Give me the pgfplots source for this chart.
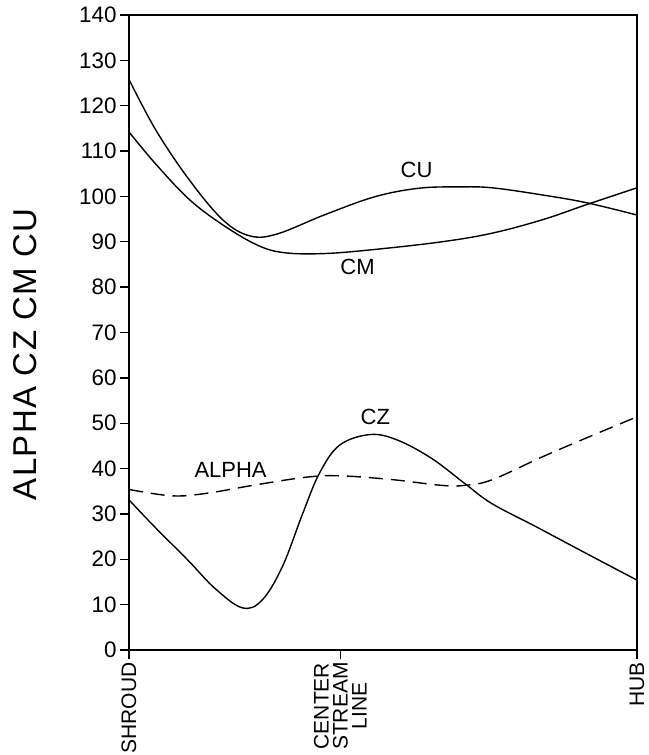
\documentclass[border=0pt]{standalone}
\usepackage{fontspec}
\setmainfont{Liberation Sans}
\newfontfamily\labelfont[LetterSpace=4]{Liberation Sans}
\usepackage{pgfplots}
\pgfplotsset{compat=1.18}
\begin{document}
\begin{tikzpicture}
\begin{axis}[
    name=ax,
    scale only axis,
    width=254pt, height=317.5pt,
    xmin=0, xmax=1, ymin=0, ymax=140,
    axis line style={line width=0.7pt},
    tick style={line width=0.7pt, black},
    tick align=outside, major tick length=4.5pt,
    xtick pos=bottom, ytick pos=left,
    ytick={0,10,...,140},
    xtick={0,0.416,1},
    xticklabels={SHROUD,{CENTER\\STREAM\\LINE},HUB},
    xticklabel style={rotate=90, anchor=east, align=center, font=\fontsize{10.5}{9.5}\selectfont, inner sep=1.5pt},
    yticklabel style={font=\fontsize{11.2}{12}\selectfont, inner sep=1.5pt},
    /pgf/number format/assume math mode=true,
    ylabel={ALPHA CZ CM CU},
    ylabel style={at={(axis description cs:-0.205,0.466)}, anchor=center,
        font=\labelfont\fontsize{16.5}{18}\selectfont},
    cycle list={{black, no markers}},
    every axis plot/.append style={line width=0.7pt, black, smooth, tension=0.6},
]
% CU
\addplot coordinates {(0,125.8) (0.053,114.6) (0.119,103.6) (0.185,94.8) (0.238,91.3)
  (0.291,91.7) (0.384,95.9) (0.483,99.9) (0.570,101.8) (0.649,102.1) (0.715,101.9)
  (0.815,100.3) (0.901,98.6) (1,95.9)};
% CM
\addplot coordinates {(0,114.2) (0.053,107.1) (0.119,99.3) (0.185,93.7) (0.252,89.3)
  (0.305,87.6) (0.384,87.4) (0.483,88.3) (0.616,90.0) (0.715,91.9) (0.815,94.9)
  (0.901,98.2) (1,101.9)};
% CZ
\addplot coordinates {(0,33.1) (0.050,27.2) (0.116,19.8) (0.169,13.6) (0.223,9.3)
  (0.262,11.0) (0.302,18.4) (0.342,30.1) (0.375,39.0) (0.415,45.2) (0.475,47.5)
  (0.528,46.3) (0.595,42.3) (0.661,36.7) (0.714,32.3) (0.801,27.2) (0.900,21.3) (1,15.4)};
% ALPHA
\addplot[dash pattern=on 7pt off 4pt] coordinates {(0,35.4) (0.083,34.0) (0.150,34.5)
  (0.249,36.4) (0.349,38.1) (0.415,38.4) (0.515,37.6) (0.615,36.3) (0.661,36.3)
  (0.714,37.5) (0.814,42.6) (0.914,47.4) (1,51.4)};
\node[font=\fontsize{11}{12}\selectfont] at (axis cs:0.566,105.8) {CU};
\node[font=\fontsize{11}{12}\selectfont] at (axis cs:0.450,84.5) {CM};
\node[font=\fontsize{11}{12}\selectfont] at (axis cs:0.485,51.4) {CZ};
\node[font=\fontsize{11}{12}\selectfont] at (axis cs:0.200,39.7) {ALPHA};
\end{axis}
\pgfresetboundingbox
\path ([xshift=-64.5pt,yshift=-52.5pt]ax.south west) rectangle ([xshift=5.5pt,yshift=7.5pt]ax.north east);
\end{tikzpicture}
\end{document}
